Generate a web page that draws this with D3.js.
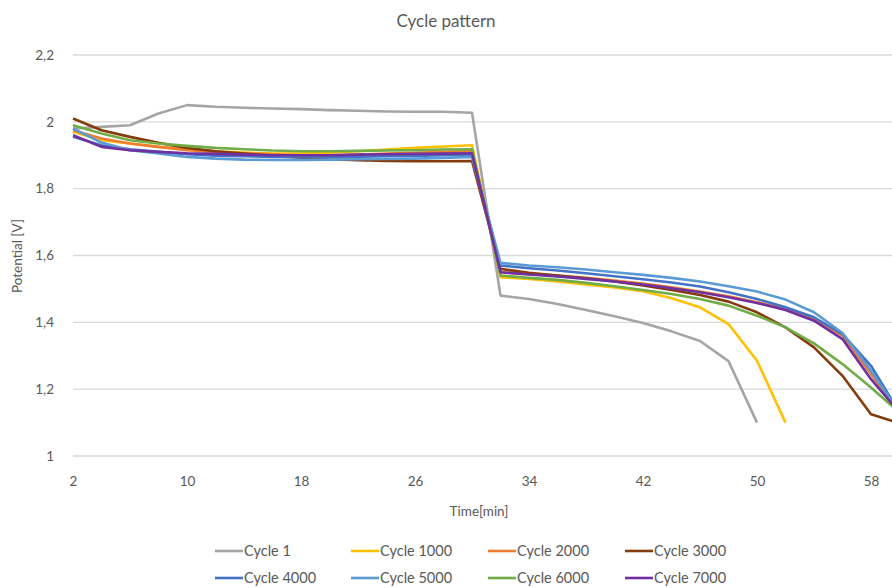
<!DOCTYPE html>
<html>
<head>
<meta charset="utf-8">
<script src="https://cdn.jsdelivr.net/npm/d3@7"></script>
<style>
  body { margin: 0; background: #fff; }
  svg { display: block; font-family: Lato, "Open Sans", sans-serif; }
</style>
</head>
<body>
<div id="chart"></div>
<script>
let w = 892;
let h = 588;

// time axis (min), one point every 2 minutes
const times = [2,4,6,8,10,12,14,16,18,20,22,24,26,28,30,32,34,36,38,40,42,44,46,48,50,52,54,56,58,60];

const cycle1    = [1.98,1.985,1.99,2.025,2.05,2.045,2.042,2.04,2.038,2.035,2.033,2.031,2.03,2.03,2.027,1.48,1.47,1.455,1.437,1.418,1.398,1.373,1.344,1.284,1.10,null,null,null,null,null];
const cycle1000 = [1.97,1.945,1.935,1.925,1.918,1.912,1.908,1.905,1.905,1.908,1.912,1.917,1.922,1.926,1.93,1.535,1.53,1.522,1.513,1.504,1.493,1.472,1.445,1.395,1.285,1.10,null,null,null,null];
const cycle2000 = [1.975,1.95,1.935,1.925,1.915,1.91,1.906,1.903,1.9,1.9,1.902,1.905,1.907,1.91,1.912,1.55,1.545,1.54,1.533,1.525,1.516,1.505,1.492,1.478,1.46,1.44,1.41,1.36,1.245,1.13];
const cycle3000 = [2.01,1.975,1.955,1.937,1.922,1.912,1.905,1.898,1.893,1.888,1.885,1.883,1.882,1.882,1.883,1.56,1.548,1.54,1.532,1.522,1.51,1.497,1.482,1.462,1.43,1.385,1.325,1.24,1.125,1.098];
const cycle4000 = [1.955,1.93,1.918,1.91,1.903,1.899,1.897,1.895,1.895,1.895,1.896,1.897,1.898,1.9,1.902,1.57,1.562,1.555,1.547,1.538,1.529,1.519,1.507,1.49,1.47,1.445,1.415,1.365,1.27,1.13];
const cycle5000 = [1.98,1.938,1.915,1.905,1.895,1.89,1.887,1.886,1.886,1.887,1.888,1.889,1.89,1.892,1.895,1.578,1.57,1.565,1.558,1.55,1.542,1.533,1.522,1.508,1.492,1.468,1.43,1.368,1.255,1.13];
const cycle6000 = [1.99,1.965,1.945,1.935,1.928,1.922,1.918,1.914,1.912,1.912,1.913,1.914,1.915,1.917,1.918,1.54,1.533,1.527,1.518,1.508,1.497,1.485,1.47,1.45,1.42,1.385,1.337,1.275,1.205,1.13];
const cycle7000 = [1.96,1.925,1.915,1.91,1.906,1.904,1.902,1.9,1.9,1.9,1.902,1.903,1.904,1.905,1.906,1.55,1.543,1.537,1.53,1.522,1.513,1.502,1.49,1.475,1.458,1.437,1.405,1.35,1.23,1.13];

const seriesNames = ["Cycle 1","Cycle 1000","Cycle 2000","Cycle 3000","Cycle 4000","Cycle 5000","Cycle 6000","Cycle 7000"];
const seriesValues = [cycle1,cycle1000,cycle2000,cycle3000,cycle4000,cycle5000,cycle6000,cycle7000];
const colors = ["#a5a5a5","#ffc000","#ed7d31","#843c0c","#4472c4","#5b9bd5","#70ad47","#7030a0"];

const xTicks = [2,10,18,26,34,42,50,58];
const yTicks = [1,1.2,1.4,1.6,1.8,2,2.2];
const yTickLabels = ["1","1,2","1,4","1,6","1,8","2","2,2"];

let x = d3.scaleLinear().domain([2,58]).range([73,871]);
let y = d3.scaleLinear().domain([1,2.2]).range([456,55]);
let gridLeft = x(2);

let svg = d3.select("#chart").append("svg")
  .attr("width", w)
  .attr("height", h);

// gridlines
svg.append("g")
  .selectAll("line")
  .data(yTicks)
  .join("line")
    .attr("x1", gridLeft)
    .attr("x2", w + 10)
    .attr("y1", d => y(d))
    .attr("y2", d => y(d))
    .attr("stroke", "#d9d9d9")
    .attr("stroke-width", 1.3);

// y axis labels
let yAxis = svg.append("g")
  .attr("transform", "translate(" + (gridLeft - 16) + ",0)")
  .call(d3.axisLeft(y).tickValues(yTicks).tickSize(0).tickFormat((d,i) => yTickLabels[i]));
yAxis.select(".domain").remove();
yAxis.selectAll("text")
  .attr("fill", "#595959")
  .attr("font-size", 13.5)
  .attr("font-family", "Lato, sans-serif");

// x axis labels
let xAxis = svg.append("g")
  .attr("transform", "translate(0," + (y(1) + 17) + ")")
  .call(d3.axisBottom(x).tickValues(xTicks).tickSize(0).tickFormat(d3.format("d")));
xAxis.select(".domain").remove();
xAxis.selectAll("text")
  .attr("fill", "#595959")
  .attr("font-size", 13.5)
  .attr("font-family", "Lato, sans-serif");

// lines
let line = d3.line()
  .defined(d => d[1] != null)
  .x(d => x(d[0]))
  .y(d => y(d[1]));

svg.append("g")
  .selectAll("path")
  .data(seriesValues)
  .join("path")
    .attr("d", vals => line(vals.map((v,i) => [times[i], v])))
    .attr("fill", "none")
    .attr("stroke", (d,i) => colors[i])
    .attr("stroke-width", 2.6)
    .attr("stroke-linejoin", "round");

// titles
svg.append("text")
  .text("Cycle pattern")
  .attr("x", 446)
  .attr("y", 27)
  .attr("text-anchor", "middle")
  .attr("fill", "#595959")
  .attr("font-size", 17);

svg.append("text")
  .text("Time[min]")
  .attr("x", 479)
  .attr("y", 516)
  .attr("text-anchor", "middle")
  .attr("fill", "#595959")
  .attr("font-size", 13.5);

svg.append("text")
  .text("Potential [V]")
  .attr("transform", "translate(22,256) rotate(-90)")
  .attr("text-anchor", "middle")
  .attr("fill", "#595959")
  .attr("font-size", 13.5);

// legend, 4 columns x 2 rows
let legendX = [215, 351, 488, 625];
let legendY = [551, 578];
let legend = svg.append("g")
  .selectAll("g")
  .data(seriesNames)
  .join("g")
    .attr("transform", (d,i) => "translate(" + legendX[i % 4] + "," + legendY[Math.floor(i / 4)] + ")");

legend.append("line")
  .attr("x1", 0)
  .attr("x2", 28)
  .attr("stroke", (d,i) => colors[i])
  .attr("stroke-width", 2.6);

legend.append("text")
  .text(d => d)
  .attr("x", 29)
  .attr("dy", "0.35em")
  .attr("fill", "#595959")
  .attr("font-size", 14.5);
</script>
</body>
</html>
